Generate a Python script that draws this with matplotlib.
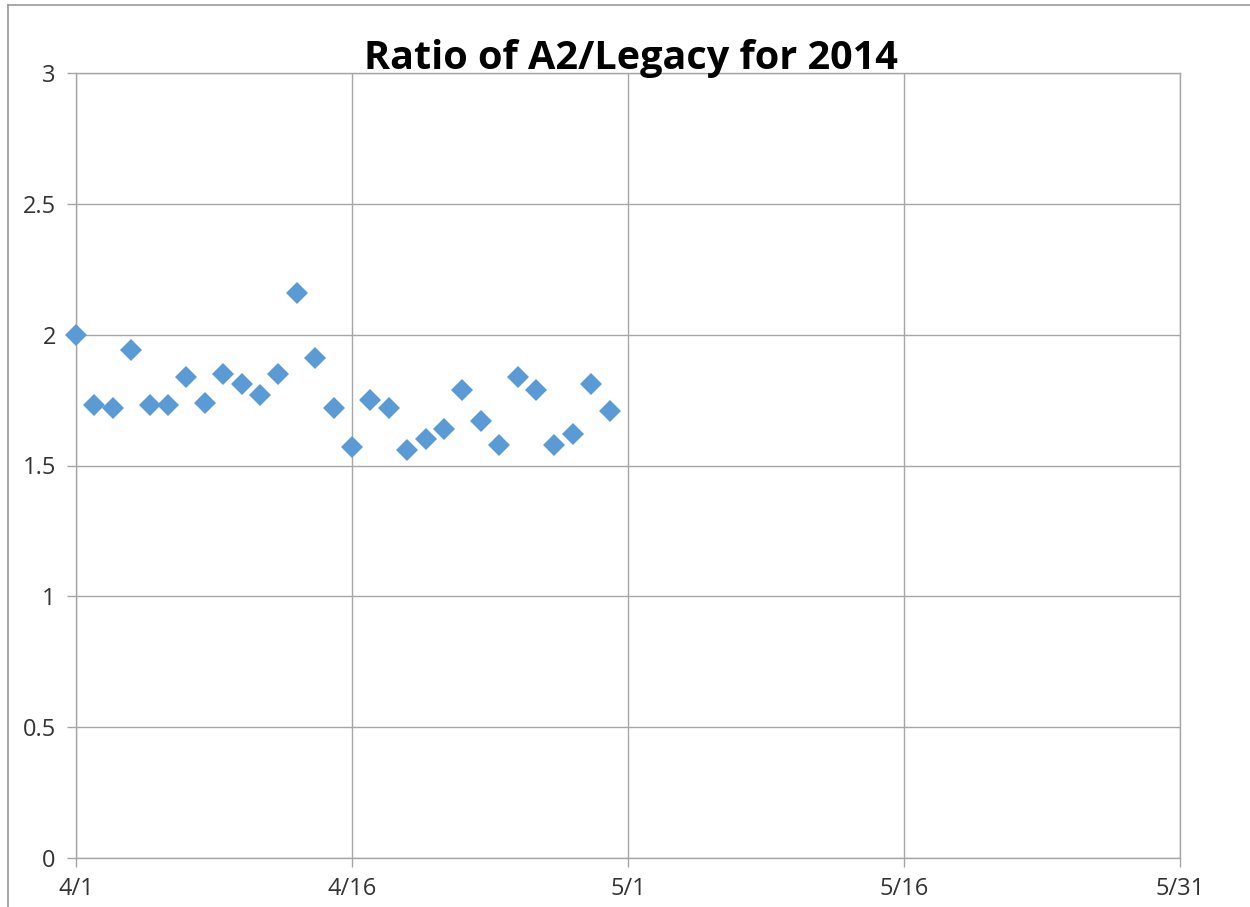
import pandas as pd
import numpy as np
import matplotlib
matplotlib.use('Agg')
import matplotlib.pyplot as plt
from matplotlib.lines import Line2D

plt.rcParams['font.family'] = ['Open Sans', 'DejaVu Sans']

## DATA

dates = pd.date_range('2014-04-01', '2014-04-30', freq='D')
ratio = [2.00, 1.73, 1.72, 1.94, 1.73, 1.73, 1.84, 1.74, 1.85, 1.81,
         1.77, 1.85, 2.16, 1.91, 1.72, 1.57, 1.75, 1.72, 1.56, 1.60,
         1.64, 1.79, 1.67, 1.58, 1.84, 1.79, 1.58, 1.62, 1.81, 1.71]
xticks = pd.to_datetime(['2014-04-01', '2014-04-16', '2014-05-01',
                         '2014-05-16', '2014-05-31'])
xticklabels = ['4/1', '4/16', '5/1', '5/16', '5/31']
yticks = [0, 0.5, 1, 1.5, 2, 2.5, 3]
yticklabels = ['0', '0.5', '1', '1.5', '2', '2.5', '3']

gray = '#A6A6A6'

## PLOT

fig = plt.figure(figsize=(12.5, 9.07), dpi=100)
ax = fig.add_axes([76/1250, 1-858/907, (1180-76)/1250, (858-73)/907])

ax.plot(dates, ratio, linestyle='none', marker='D', markersize=11,
        color='#5B9BD5', markeredgewidth=0, zorder=3, clip_on=False)

ax.set_xlim(xticks[0], xticks[-1])
ax.set_ylim(0, 3)
ax.set_xticks(xticks)
ax.set_xticklabels(xticklabels)
ax.set_yticks(yticks)
ax.set_yticklabels(yticklabels)

ax.grid(True, color=gray, linewidth=1)
for s in ax.spines.values():
    s.set_color(gray)
    s.set_linewidth(1)
ax.tick_params(axis='both', direction='out', length=6.5, width=1, color=gray,
               labelsize=17, labelcolor='#333333')
ax.tick_params(axis='y', pad=8)
ax.tick_params(axis='x', pad=7)

fig.text(0.505, 1-58/907, 'Ratio of A2/Legacy for 2014', ha='center', va='center',
         fontsize=28.5, fontweight='bold', color='black')

# outer chart border (left and top only visible)
fig.add_artist(Line2D([8/1250, 8/1250], [0, 1-5/907], transform=fig.transFigure,
                      color='#9A9A9A', linewidth=1.2))
fig.add_artist(Line2D([8/1250, 1], [1-5/907, 1-5/907], transform=fig.transFigure,
                      color='#9A9A9A', linewidth=1.2))

plt.savefig('out.png', dpi=100)
